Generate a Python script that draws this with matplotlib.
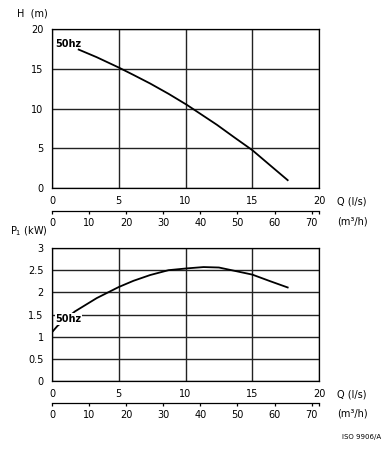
import matplotlib
matplotlib.use("Agg")
import matplotlib.pyplot as plt

# datos
q_h = [2.0, 3.35, 5.0, 6.1, 7.35, 8.73, 10.1, 12.35, 13.7, 15.0, 16.35, 17.65]
h = [17.44, 16.48, 15.18, 14.25, 13.17, 11.87, 10.48, 7.97, 6.33, 4.78, 2.85, 1.0]

q_p = [0.0, 0.4, 1.72, 3.35, 5.0, 6.1, 7.35, 8.73, 10.1, 11.35, 12.5, 15.0, 16.35, 17.65]
p1 = [1.10, 1.24, 1.57, 1.87, 2.12, 2.26, 2.39, 2.50, 2.54, 2.57, 2.56, 2.40, 2.25, 2.11]

q_ticks = [0, 5, 10, 15, 20]
m3h_ticks = [0, 10, 20, 30, 40, 50, 60, 70]
h_ticks = [0, 5, 10, 15, 20]
p_ticks = [0, 0.5, 1, 1.5, 2, 2.5, 3]
p_labels = ["0", "0.5", "1", "1.5", "2", "2.5", "3"]

plt.rcParams["font.family"] = "DejaVu Sans"
plt.rcParams["font.size"] = 7

fig = plt.figure(figsize=(3.91, 4.5), dpi=100)


def setup(ax, yticks, ylabels, off):
    ax.set_xlim(0, 20)
    ax.set_xticks(q_ticks)
    ax.set_yticks(yticks)
    ax.set_yticklabels(ylabels)
    ax.set_ylim(yticks[0], yticks[-1])
    ax.grid(True, color="#222222", linewidth=1.0)
    ax.tick_params(length=0, pad=6)
    for s in ax.spines.values():
        s.set_linewidth(0.9)
    # eje secundario en m3/h
    sec = ax.secondary_xaxis(off, functions=(lambda q: q * 3.6, lambda m: m / 3.6))
    sec.set_xticks(m3h_ticks + [72])
    sec.set_xticklabels([str(t) for t in m3h_ticks] + [""])
    sec.tick_params(direction="out", length=2.5, width=0.9, pad=2.5)
    sec.spines["bottom"].set_linewidth(0.9)
    return sec


# CURVA H
ax1 = fig.add_axes([0.133, 0.582, 0.683, 0.353])
setup(ax1, h_ticks, [str(t) for t in h_ticks], -0.145)
ax1.plot(q_h, h, color="black", linewidth=1.3)
ax1.text(0.25, 18.2, "50hz", fontweight="bold", fontsize=7, va="center")
fig.text(0.043, 0.969, "H  (m)", fontsize=7, va="center")
fig.text(0.862, 0.553, "Q (l/s)", fontsize=7, va="center")
fig.text(0.862, 0.507, "(m³/h)", fontsize=7, va="center")

# CURVA P1
ax2 = fig.add_axes([0.133, 0.1533, 0.683, 0.2956])
setup(ax2, p_ticks, p_labels, -0.165)
ax2.plot(q_p, p1, color="black", linewidth=1.3)
ax2.text(0.25, 1.4, "50hz", fontweight="bold", fontsize=7, va="center",
         bbox=dict(facecolor="white", edgecolor="none", pad=0.5))
fig.text(0.025, 0.487, "P$_1$ (kW)", fontsize=7, va="center")
fig.text(0.862, 0.124, "Q (l/s)", fontsize=7, va="center")
fig.text(0.862, 0.080, "(m³/h)", fontsize=7, va="center")

fig.text(0.875, 0.029, "ISO 9906/A", fontsize=5, va="center")

fig.savefig("out.png", dpi=100)
